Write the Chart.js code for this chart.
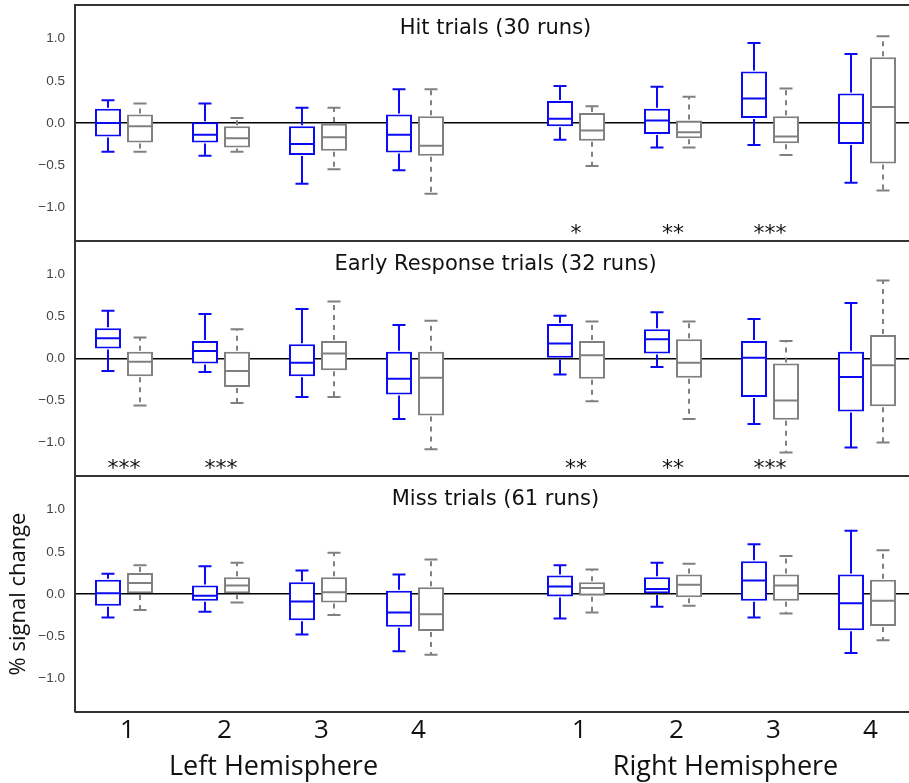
<!DOCTYPE html>
<html lang="en">
<head>
<meta charset="UTF-8">
<title>% signal change by trial type</title>
<script src="https://cdn.jsdelivr.net/npm/chart.js"></script>
<style>
  body { margin: 0; background: #fff; overflow: hidden; }
  canvas { position: absolute; left: 0; }
</style>
</head>
<body>
<canvas id="hit" width="918" height="243" style="top:0"></canvas>
<canvas id="early" width="918" height="239" style="top:239px"></canvas>
<canvas id="miss" width="918" height="309" style="top:474px"></canvas>
<script>
// each box: [min, q1, median, q3, max]; 4 left then 4 right hemisphere regions
const xTickLabels = ['1', '2', '3', '4', '1', '2', '3', '4'];
const hemispheres = ['Left Hemisphere', 'Right Hemisphere'];
const yTicks = [-1.0, -0.5, 0.0, 0.5, 1.0];

const hitBlue = [
    [-0.34, -0.16, 0.00, 0.17, 0.27],
    [-0.39, -0.23, -0.14, 0.01, 0.23],
    [-0.72, -0.38, -0.25, -0.04, 0.18],
    [-0.56, -0.35, -0.14, 0.10, 0.40],
    [-0.20, -0.04, 0.05, 0.26, 0.44],
    [-0.29, -0.13, 0.03, 0.17, 0.43],
    [-0.26, 0.06, 0.29, 0.61, 0.95],
    [-0.71, -0.25, 0.00, 0.35, 0.82]
];
const hitGray = [
    [-0.34, -0.23, -0.04, 0.10, 0.23],
    [-0.34, -0.29, -0.18, -0.04, 0.06],
    [-0.55, -0.33, -0.17, 0.00, 0.18],
    [-0.84, -0.39, -0.27, 0.08, 0.40],
    [-0.51, -0.21, -0.09, 0.12, 0.20],
    [-0.29, -0.18, -0.11, 0.03, 0.31],
    [-0.38, -0.24, -0.16, 0.08, 0.41],
    [-0.80, -0.48, 0.19, 0.78, 1.03]
];
const hitStars = [0, 0, 0, 0, 1, 2, 3, 0];

const earlyBlue = [
    [-0.15, 0.12, 0.24, 0.36, 0.57],
    [-0.16, -0.06, 0.09, 0.21, 0.53],
    [-0.46, -0.21, -0.05, 0.17, 0.59],
    [-0.72, -0.43, -0.24, 0.08, 0.40],
    [-0.19, 0.00, 0.18, 0.41, 0.51],
    [-0.10, 0.06, 0.23, 0.35, 0.55],
    [-0.78, -0.46, 0.01, 0.21, 0.47],
    [-1.06, -0.63, -0.22, 0.08, 0.66]
];
const earlyGray = [
    [-0.56, -0.21, -0.04, 0.08, 0.25],
    [-0.53, -0.34, -0.15, 0.08, 0.35],
    [-0.46, -0.14, 0.06, 0.21, 0.68],
    [-1.08, -0.68, -0.23, 0.08, 0.45],
    [-0.51, -0.24, 0.04, 0.21, 0.44],
    [-0.72, -0.23, -0.05, 0.23, 0.44],
    [-1.12, -0.73, -0.50, -0.06, 0.21],
    [-1.00, -0.57, -0.08, 0.28, 0.93]
];
const earlyStars = [3, 3, 0, 0, 2, 2, 3, 0];

const missBlue = [
    [-0.28, -0.14, 0.01, 0.17, 0.24],
    [-0.21, -0.08, -0.02, 0.10, 0.33],
    [-0.48, -0.31, -0.09, 0.14, 0.28],
    [-0.68, -0.39, -0.22, 0.04, 0.23],
    [-0.29, -0.03, 0.09, 0.22, 0.34],
    [-0.15, 0.00, 0.06, 0.20, 0.37],
    [-0.28, -0.08, 0.16, 0.39, 0.59],
    [-0.70, -0.43, -0.11, 0.23, 0.75]
];
const missGray = [
    [-0.19, 0.00, 0.13, 0.25, 0.34],
    [-0.10, 0.01, 0.10, 0.20, 0.37],
    [-0.25, -0.10, 0.02, 0.20, 0.49],
    [-0.72, -0.44, -0.24, 0.08, 0.41],
    [-0.22, -0.02, 0.07, 0.14, 0.29],
    [-0.14, -0.04, 0.11, 0.23, 0.36],
    [-0.23, -0.08, 0.10, 0.23, 0.45],
    [-0.55, -0.38, -0.08, 0.17, 0.52]
];
const missStars = [0, 0, 0, 0, 0, 0, 0, 0];

// layout
const hemiGap = 0.66;
const xPos = xTickLabels.map((l, i) => i < 4 ? i + 1 : i + 1 + hemiGap);
const hemiPos = [ (xPos[0] + xPos[3]) / 2, (xPos[4] + xPos[7]) / 2 ];
const starLevel = -1.32;
const BLUE = '#0a0af5';
const GRAY = '#808080';
const FRAME = '#333';

const fmt = v => v.toFixed(1).replace('-', '\u2212');

function boxData(list) {
    return list.map((b, i) => ({ x: xPos[i], y: [b[1], b[3]] }));
}

function decorPlugin(title, stars) {
    return {
        id: 'decor',
        afterDatasetsDraw(chart) {
            const ctx = chart.ctx;
            const x = chart.scales.x, y = chart.scales.y;
            const area = chart.chartArea;

            // whiskers, caps and medians
            chart.data.datasets.forEach((ds, di) => {
                chart.getDatasetMeta(di).data.forEach((bar, i) => {
                    const [lo, q1, med, q3, hi] = ds.stats[i];
                    const half = bar.width / 2, cap = bar.width / 4;
                    ctx.save();
                    ctx.strokeStyle = ds.borderColor;
                    ctx.lineWidth = 2;
                    ctx.beginPath();
                    ctx.moveTo(bar.x - half, y.getPixelForValue(med));
                    ctx.lineTo(bar.x + half, y.getPixelForValue(med));
                    ctx.moveTo(bar.x - cap, y.getPixelForValue(hi));
                    ctx.lineTo(bar.x + cap, y.getPixelForValue(hi));
                    ctx.moveTo(bar.x - cap, y.getPixelForValue(lo));
                    ctx.lineTo(bar.x + cap, y.getPixelForValue(lo));
                    ctx.stroke();
                    ctx.setLineDash(ds.whiskerDash);
                    ctx.beginPath();
                    ctx.moveTo(bar.x, y.getPixelForValue(q3) - 1);
                    ctx.lineTo(bar.x, y.getPixelForValue(hi));
                    ctx.moveTo(bar.x, y.getPixelForValue(q1) + 1);
                    ctx.lineTo(bar.x, y.getPixelForValue(lo));
                    ctx.stroke();
                    ctx.restore();
                });
            });

            // significance stars
            ctx.save();
            ctx.fillStyle = '#111';
            ctx.font = '22px "DejaVu Sans"';
            ctx.textAlign = 'center';
            ctx.textBaseline = 'middle';
            stars.forEach((n, i) => {
                if (n > 0) ctx.fillText('*'.repeat(n), x.getPixelForValue(xPos[i]), y.getPixelForValue(starLevel));
            });

            // panel title
            ctx.font = '21px "DejaVu Sans"';
            ctx.fillText(title, (area.left + area.right) / 2, area.top + 24);

            // frame
            ctx.strokeStyle = FRAME;
            ctx.lineWidth = 2;
            ctx.beginPath();
            ctx.moveTo(area.left, area.top);
            ctx.lineTo(area.right + 4, area.top);
            ctx.moveTo(area.left, area.bottom);
            ctx.lineTo(area.right + 4, area.bottom);
            ctx.stroke();
            ctx.restore();
        }
    };
}

function noPad(a) {
    a.paddingTop = 0; a.paddingBottom = 0; a.paddingLeft = 0; a.paddingRight = 0;
}

function makePanel(id, title, blue, gray, stars, bottom) {
    const xMin = 0.495, xMax = 9.165;
    const scales = {
        x: {
            type: 'linear', min: xMin, max: xMax, offset: false, display: bottom, weight: 0,
            grid: { display: false, drawTicks: false }, border: { display: false },
            afterBuildTicks: a => { a.ticks = xPos.map(v => ({ value: v })); },
            afterFit: a => { noPad(a); if (bottom) a.height = 36; },
            ticks: {
                autoSkip: false, maxRotation: 0, padding: 3, labelOffset: 3.5, color: '#111',
                font: { family: 'Open Sans', size: 26 },
                callback: (v, i) => xTickLabels[i]
            }
        },
        y: {
            min: -1.4, max: 1.4,
            afterBuildTicks: a => { a.ticks = yTicks.map(v => ({ value: v })); },
            afterFit: a => { noPad(a); a.width = 75; },
            border: { display: true, color: FRAME, width: 2 },
            grid: {
                drawTicks: false, lineWidth: 1.5,
                color: c => c.tick && c.tick.value === 0 ? '#000' : 'rgba(0,0,0,0)'
            },
            ticks: {
                padding: 10, color: '#444',
                font: { family: 'Liberation Sans', size: 13.5 },
                callback: v => fmt(v)
            },
            title: {
                display: bottom, text: '% signal change', color: '#111',
                font: { family: 'Open Sans', size: 22 }, padding: { top: 6 }
            }
        }
    };
    if (bottom) {
        scales.x2 = {
            type: 'linear', min: xMin, max: xMax, offset: false, position: 'bottom', weight: 1,
            grid: { display: false, drawTicks: false }, border: { display: false },
            afterBuildTicks: a => { a.ticks = hemiPos.map(v => ({ value: v })); },
            afterFit: a => { noPad(a); a.height = 35; },
            ticks: {
                autoSkip: false, maxRotation: 0, padding: 3, labelOffset: 4, color: '#111',
                font: { family: 'Open Sans', size: 27 },
                callback: (v, i) => hemispheres[i]
            }
        };
    }
    return new Chart(document.getElementById(id), {
        type: 'bar',
        data: {
            datasets: [
                {
                    data: boxData(blue), stats: blue, whiskerDash: [],
                    borderColor: BLUE, backgroundColor: '#fff', borderWidth: 2, borderSkipped: false,
                    categoryPercentage: 0.66, barPercentage: 0.8125
                },
                {
                    data: boxData(gray), stats: gray, whiskerDash: [5, 5],
                    borderColor: GRAY, backgroundColor: '#fff', borderWidth: 2, borderSkipped: false,
                    categoryPercentage: 0.66, barPercentage: 0.8125
                }
            ]
        },
        options: {
            responsive: false,
            animation: false,
            layout: { padding: { top: id === 'hit' ? 5 : 2, bottom: bottom ? 0 : 2, left: 0, right: 2 } },
            plugins: { legend: { display: false }, tooltip: { enabled: false } },
            scales: scales
        },
        plugins: [decorPlugin(title, stars)]
    });
}

makePanel('hit', 'Hit trials (30 runs)', hitBlue, hitGray, hitStars, false);
makePanel('early', 'Early Response trials (32 runs)', earlyBlue, earlyGray, earlyStars, false);
makePanel('miss', 'Miss trials (61 runs)', missBlue, missGray, missStars, true);
</script>
</body>
</html>
